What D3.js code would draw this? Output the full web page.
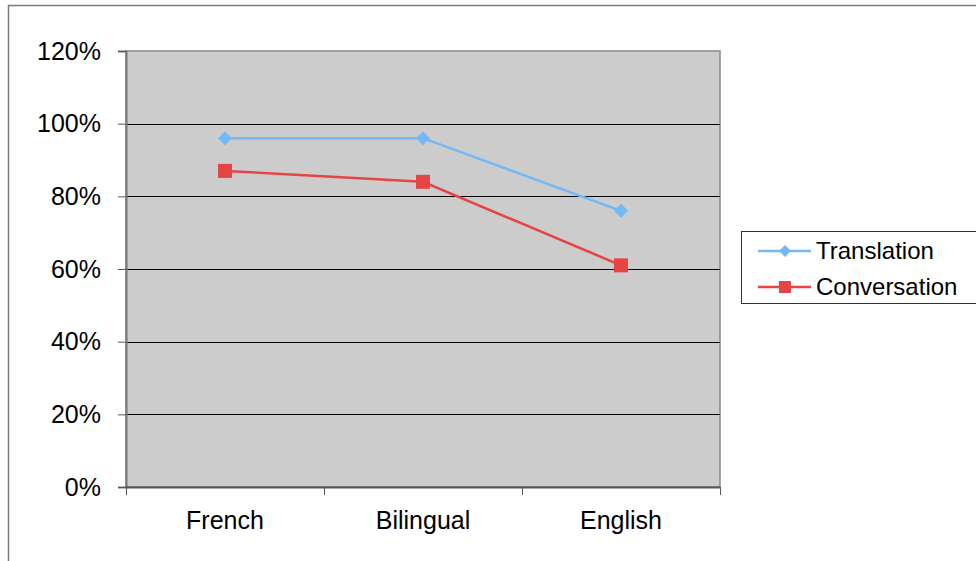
<!DOCTYPE html>
<html>
<head>
<meta charset="utf-8">
<script src="https://cdn.jsdelivr.net/npm/d3@7"></script>
<style>
  body { margin: 0; background: #fff; }
  svg { display: block; font-family: "Liberation Sans", Arial, sans-serif; }
</style>
</head>
<body>
<div id="chart"></div>
<script>
const categories = ['French', 'Bilingual', 'English'];
const translation = [0.96, 0.96, 0.76];
const conversation = [0.87, 0.84, 0.61];
const yTicks = [0, 0.2, 0.4, 0.6, 0.8, 1.0, 1.2];
const seriesNames = ['Translation', 'Conversation'];

const width = 976;
const height = 561;
const plot = { left: 126, right: 720, top: 51, bottom: 487 };

const svg = d3.select('#chart')
  .append('svg')
  .attr('width', width)
  .attr('height', height);

// outer chart frame
svg.append('rect')
  .attr('x', 8.5)
  .attr('y', 5.5)
  .attr('width', 1000)
  .attr('height', 600)
  .attr('fill', '#fff')
  .attr('stroke', '#7a7a7a')
  .attr('stroke-width', 1.5);

const x = d3.scaleBand()
  .domain(categories)
  .range([plot.left, plot.right])
  .padding(0);

const y = d3.scaleLinear()
  .domain([0, 1.2])
  .range([plot.bottom, plot.top]);

// plot background
svg.append('rect')
  .attr('x', plot.left)
  .attr('y', plot.top)
  .attr('width', plot.right - plot.left)
  .attr('height', plot.bottom - plot.top)
  .attr('fill', '#cccccc')
  .attr('stroke', '#888')
  .attr('stroke-width', 1.5);

// gridlines
svg.append('g')
  .selectAll('line')
  .data(yTicks.filter(d => d > 0 && d < 1.2))
  .join('line')
  .attr('x1', plot.left)
  .attr('x2', plot.right)
  .attr('y1', d => Math.round(y(d)) + 0.5)
  .attr('y2', d => Math.round(y(d)) + 0.5)
  .attr('stroke', '#000')
  .attr('stroke-width', 1);

// y axis
const yAxis = d3.axisLeft(y)
  .tickValues(yTicks)
  .tickSize(8)
  .tickPadding(17)
  .tickFormat(d => `${Math.round(d * 100)}%`);

const yg = svg.append('g')
  .attr('transform', `translate(${plot.left},0)`)
  .call(yAxis);
yg.select('.domain').attr('stroke', '#777').attr('stroke-width', 2);
yg.selectAll('.tick line').attr('stroke', '#555');
yg.selectAll('.tick text')
  .attr('font-size', 25)
  .attr('fill', '#000')
  .attr('font-family', '"Liberation Sans", Arial, sans-serif');

// x axis
const xg = svg.append('g')
  .attr('transform', `translate(0,${plot.bottom})`);
xg.append('line')
  .attr('x1', plot.left)
  .attr('x2', plot.right)
  .attr('y1', 0.5)
  .attr('y2', 0.5)
  .attr('stroke', '#555')
  .attr('stroke-width', 2);
const bounds = categories.map(c => x(c)).concat([x(categories[categories.length - 1]) + x.bandwidth()]);
xg.selectAll('.xt')
  .data(bounds)
  .join('line')
  .attr('class', 'xt')
  .attr('x1', d => Math.round(d) + 0.5)
  .attr('x2', d => Math.round(d) + 0.5)
  .attr('y1', 0)
  .attr('y2', 8)
  .attr('stroke', '#555');
xg.selectAll('text')
  .data(categories)
  .join('text')
  .attr('x', d => x(d) + x.bandwidth() / 2)
  .attr('y', 42)
  .attr('text-anchor', 'middle')
  .attr('font-size', 25)
  .attr('fill', '#000')
  .text(d => d);

const colors = ['#74b8f6', '#e54444'];
const cx = d => x(d) + x.bandwidth() / 2;

const line = d3.line()
  .x((d, i) => cx(categories[i]))
  .y(d => y(d));

[translation, conversation].forEach((series, si) => {
  svg.append('path')
    .datum(series)
    .attr('d', line)
    .attr('fill', 'none')
    .attr('stroke', colors[si])
    .attr('stroke-width', 2.5);
});

const diamond = r => `M0,${-r}L${r},0L0,${r}L${-r},0Z`;

// markers
svg.append('g')
  .selectAll('path')
  .data(translation)
  .join('path')
  .attr('transform', (d, i) => `translate(${cx(categories[i])},${y(d)})`)
  .attr('d', diamond(7))
  .attr('fill', colors[0]);

svg.append('g')
  .selectAll('rect')
  .data(conversation)
  .join('rect')
  .attr('x', (d, i) => cx(categories[i]) - 7)
  .attr('y', d => y(d) - 7)
  .attr('width', 14)
  .attr('height', 14)
  .attr('fill', colors[1]);

// legend
const legend = svg.append('g');
legend.append('rect')
  .attr('x', 741.5)
  .attr('y', 231.5)
  .attr('width', 260)
  .attr('height', 72)
  .attr('fill', '#fff')
  .attr('stroke', '#333')
  .attr('stroke-width', 1);

const legendItems = legend.selectAll('.item')
  .data(seriesNames)
  .join('g')
  .attr('class', 'item')
  .attr('transform', (d, i) => `translate(758,${251 + i * 36})`);

legendItems.append('line')
  .attr('x1', 0)
  .attr('x2', 53)
  .attr('stroke', (d, i) => colors[i])
  .attr('stroke-width', 2.5);

legendItems.filter((d, i) => i === 0)
  .append('path')
  .attr('transform', 'translate(27,0)')
  .attr('d', diamond(6))
  .attr('fill', colors[0]);

legendItems.filter((d, i) => i === 1)
  .append('rect')
  .attr('x', 21)
  .attr('y', -6)
  .attr('width', 12)
  .attr('height', 12)
  .attr('fill', colors[1]);

legendItems.append('text')
  .attr('x', 58)
  .attr('y', 8)
  .attr('font-size', 24)
  .attr('fill', '#000')
  .text(d => d);
</script>
</body>
</html>
